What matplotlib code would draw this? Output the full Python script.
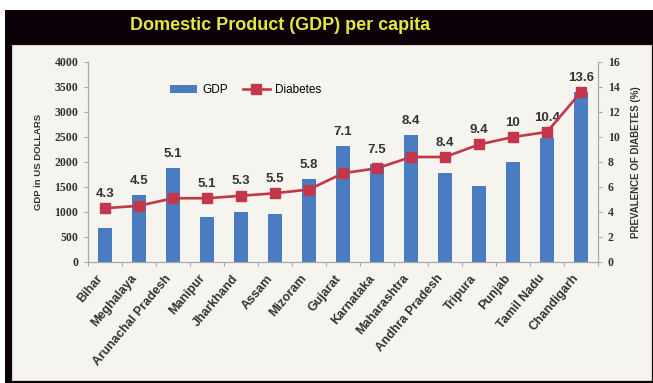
import matplotlib.pyplot as plt
from matplotlib.patches import Rectangle
from matplotlib.transforms import ScaledTranslation
import numpy as np

# State-wise GDP per capita and diabetes prevalence
states = ["Bihar", "Meghalaya", "Arunachal Pradesh", "Manipur", "Jharkhand",
          "Assam", "Mizoram", "Gujarat", "Karnataka", "Maharashtra",
          "Andhra Pradesh", "Tripura", "Punjab", "Tamil Nadu", "Chandigarh"]
gdp = [680, 1340, 1870, 900, 1000, 960, 1660, 2320, 1960, 2540,
       1780, 1520, 2000, 2480, 3400]
diabetes = [4.3, 4.5, 5.1, 5.1, 5.3, 5.5, 5.8, 7.1, 7.5, 8.4,
            8.4, 9.4, 10, 10.4, 13.6]
diabetes_labels = ["4.3", "4.5", "5.1", "5.1", "5.3", "5.5", "5.8", "7.1",
                   "7.5", "8.4", "8.4", "9.4", "10", "10.4", "13.6"]

W, H = 653, 383
fig = plt.figure(figsize=(W / 100, H / 100), dpi=100, facecolor="white")

# dark slide frame, title strip and light chart panel
fig.patches.append(Rectangle((5 / W, 0), 1, (H - 10) / H, transform=fig.transFigure,
                             facecolor="#0b0008", edgecolor="none", zorder=-3))
fig.patches.append(Rectangle((12 / W, 3 / H), 639 / W, 335 / H, transform=fig.transFigure,
                             facecolor="#f6f4ef", edgecolor="#d8d4d0", lw=0.8, zorder=-2))
fig.text(280 / W, 1 - 26 / H, "Domestic Product (GDP) per capita", color="#e4e83a",
         fontsize=13, fontweight="bold", family="Liberation Sans",
         ha="center", va="center")

ax = fig.add_axes([88 / W, 121 / H, 510 / W, 200 / H])
ax.set_facecolor("none")
ax2 = ax.twinx()

x = np.arange(len(states))
bar_color = "#4a7cc1"
line_color = "#c4364a"
axis_gray = "#a8a8a8"
text_col = "#333333"

ax.bar(x, gdp, width=0.41, color=bar_color, label="GDP", zorder=2)
ax2.plot(x, diabetes, color=line_color, lw=1.9, marker="s", markersize=7,
         label="Diabetes", zorder=3)

ax.set_xlim(-0.5, len(states) - 0.5)
ax.set_ylim(0, 4000)
ax.set_yticks(np.arange(0, 4001, 500))
ax2.set_ylim(0, 16)
ax2.set_yticks(np.arange(0, 17, 2))

# value labels sit above whichever is higher: the bar or the marker
for i, (g, d, lab) in enumerate(zip(gdp, diabetes, diabetes_labels)):
    base = max(g, d * 250)
    ax.annotate(lab, (i, base), xytext=(0, 6), textcoords="offset points",
                ha="center", va="bottom", fontsize=9.5, fontweight="bold",
                color=text_col, family="Liberation Sans", zorder=5)

for a in (ax, ax2):
    for s in a.spines.values():
        s.set_color(axis_gray)
        s.set_linewidth(0.8)
    a.spines["top"].set_visible(False)
    a.tick_params(axis="y", length=3, width=0.8, color=axis_gray, pad=4,
                  labelsize=8.5, labelcolor=text_col)
    for t in a.get_yticklabels():
        t.set_family("Liberation Serif")
        t.set_fontweight("bold")

# category ticks fall between bars
ax.set_xticks(x)
ax.set_xticks(np.arange(-0.5, len(states), 1), minor=True)
ax.tick_params(axis="x", which="major", length=0, pad=6)
ax.tick_params(axis="x", which="minor", length=3, width=0.8, color=axis_gray)
ax.set_xticklabels(states, rotation=50, ha="right", rotation_mode="anchor",
                   fontsize=9, fontweight="bold", color=text_col,
                   family="Liberation Sans")
shift = ScaledTranslation(-9 / 100, -2 / 100, fig.dpi_scale_trans)
for t in ax.get_xticklabels():
    t.set_transform(t.get_transform() + shift)

ax.set_ylabel("GDP in US DOLLARS", fontsize=6.8, fontweight="bold",
              color=text_col, family="Liberation Sans", labelpad=8)
ax2.set_ylabel("PREVALENCE OF DIABETES (%)", fontsize=7, fontweight="bold",
               color=text_col, family="Liberation Sans", labelpad=8)

h1, l1 = ax.get_legend_handles_labels()
h2, l2 = ax2.get_legend_handles_labels()
ax2.legend(h1 + h2, l1 + l2, ncol=2, frameon=False, loc="center left",
           bbox_to_anchor=(0.14, 0.86), handlelength=2.3, handletextpad=0.4,
           columnspacing=1.3, prop={"family": "Liberation Sans", "size": 8.5})

fig.savefig("out.png", dpi=100, facecolor=fig.get_facecolor())
